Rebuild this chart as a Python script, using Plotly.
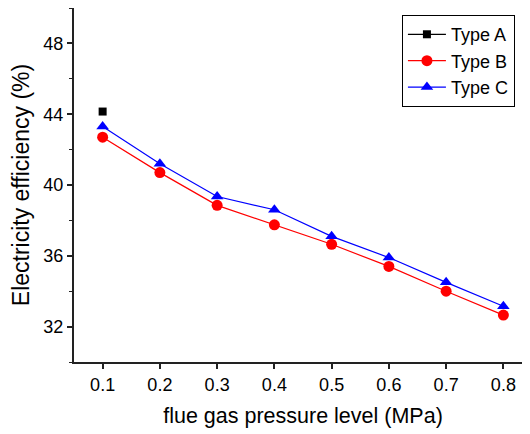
import plotly.graph_objects as go

pressure = [0.1, 0.2, 0.3, 0.4, 0.5, 0.6, 0.7, 0.8]
type_a_x = [0.1]
type_a = [44.15]
type_b = [42.7, 40.7, 38.85, 37.75, 36.65, 35.4, 34.0, 32.65]
type_c = [43.3, 41.2, 39.35, 38.6, 37.1, 35.9, 34.5, 33.15]
x_ticks = [0.1, 0.2, 0.3, 0.4, 0.5, 0.6, 0.7, 0.8]
y_ticks = [32, 36, 40, 44, 48]

font = "Liberation Sans"

fig = go.Figure()
fig.add_trace(go.Scatter(x=type_a_x, y=type_a, name="Type A", mode="lines+markers",
                         line=dict(color="black", width=1.2),
                         marker=dict(symbol="square", size=8, color="black")))
fig.add_trace(go.Scatter(x=pressure, y=type_b, name="Type B", mode="lines+markers",
                         line=dict(color="red", width=1.2),
                         marker=dict(symbol="circle", size=11, color="red")))
fig.add_trace(go.Scatter(x=pressure, y=type_c, name="Type C", mode="lines+markers",
                         line=dict(color="blue", width=1.2),
                         marker=dict(symbol="triangle-up", size=11, color="blue")))

# top decorative axis ticks
fig.add_trace(go.Scatter(x=[None], y=[None], xaxis="x2", showlegend=False))

fig.update_layout(
    width=530, height=434,
    margin=dict(l=66, r=6, t=0, b=80),
    paper_bgcolor="white", plot_bgcolor="white",
    font=dict(family=font, color="black", size=18),
    showlegend=True,
    legend=dict(x=0.716, y=0.980, xanchor="left", yanchor="top",
                bordercolor="black", borderwidth=1, bgcolor="white",
                font=dict(size=18, family=font), tracegroupgap=0,
                itemwidth=38),
    xaxis=dict(range=[0.05, 0.85], tickvals=x_ticks,
               ticktext=[f"{v:.1f}" for v in x_ticks],
               showgrid=False, zeroline=False, showline=True, automargin=False,
               linecolor="#222", linewidth=2, ticks="outside", ticklen=5,
               tickwidth=1.5, tickcolor="#222",
               tickfont=dict(size=18, family=font),
               title=dict(text="flue gas pressure level (MPa)",
                          font=dict(size=21.5, family=font), standoff=14)),
    xaxis2=dict(overlaying="x", side="top", range=[0, 10], dtick=1,
                showgrid=False, zeroline=False, showline=True, automargin=False,
                linecolor="#222", linewidth=2, ticks="outside", ticklen=2,
                tickwidth=1, tickcolor="#222", showticklabels=False),
    yaxis=dict(range=[30, 50], tickvals=y_ticks,
               showgrid=False, zeroline=False, showline=True, automargin=False,
               linecolor="#222", linewidth=2, ticks="outside", ticklen=5,
               tickwidth=1.5, tickcolor="#222",
               minor=dict(tickvals=[30, 34, 38, 42, 46, 50], ticks="outside",
                          ticklen=3, tickwidth=1, tickcolor="#222"),
               tickfont=dict(size=18, family=font),
               title=dict(text="Electricity efficiency (%)",
                          font=dict(size=23, family=font), standoff=10)),
)

fig.write_html("out.html")
